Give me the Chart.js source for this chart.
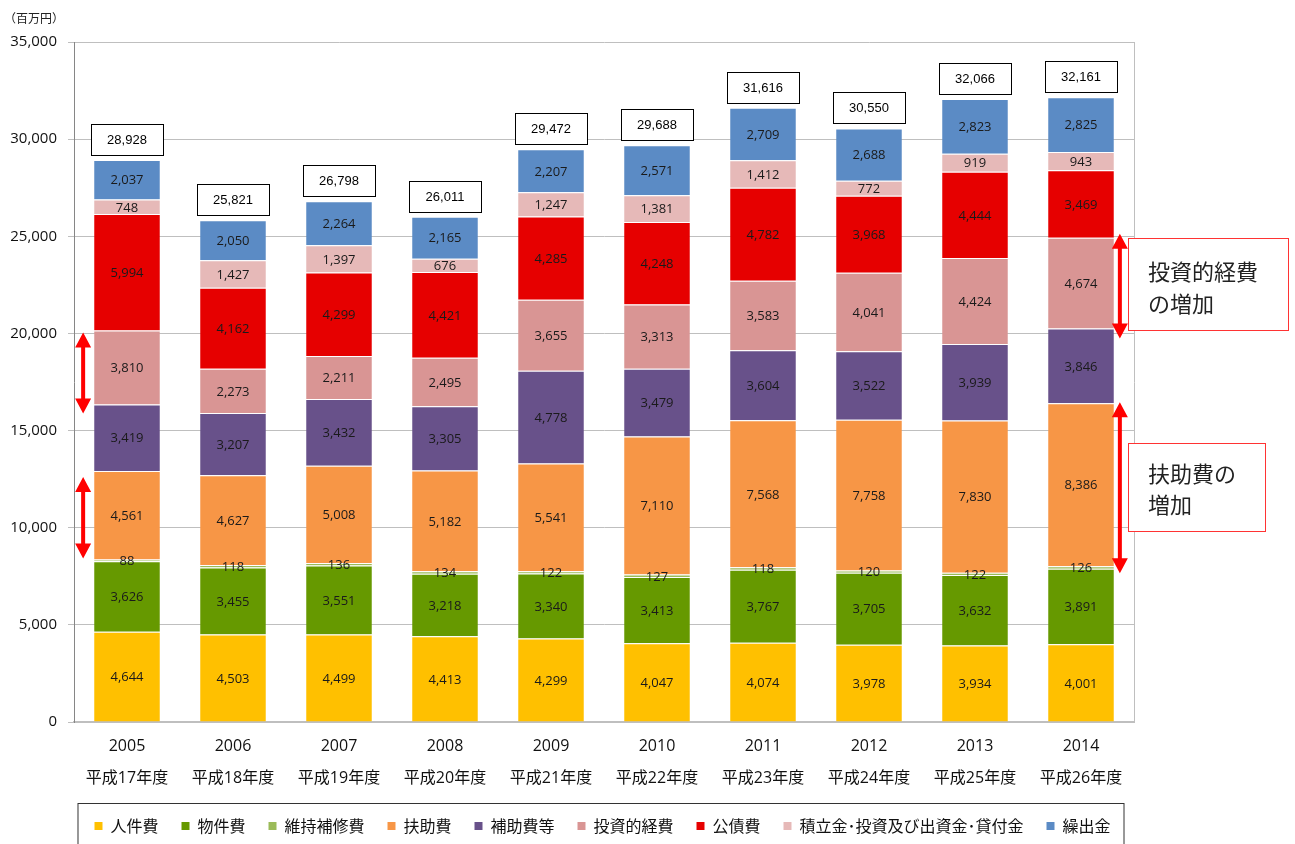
<!DOCTYPE html>
<html>
<head>
<meta charset="utf-8">
<script src="https://cdn.jsdelivr.net/npm/chart.js@4.4.1/dist/chart.umd.min.js"></script>
<style>
  html, body { margin: 0; padding: 0; background: #fff; }
  #wrap { width: 1295px; height: 844px; position: relative; }
</style>
</head>
<body>
<div id="wrap"><canvas id="c"></canvas></div>
<script>
// categories
var years = ['2005', '2006', '2007', '2008', '2009', '2010', '2011', '2012', '2013', '2014'];
var nendo = ['平成17年度', '平成18年度', '平成19年度', '平成20年度', '平成21年度',
             '平成22年度', '平成23年度', '平成24年度', '平成25年度', '平成26年度'];

// series (百万円)
var jinkenhi   = [4644, 4503, 4499, 4413, 4299, 4047, 4074, 3978, 3934, 4001];
var bukkenhi   = [3626, 3455, 3551, 3218, 3340, 3413, 3767, 3705, 3632, 3891];
var ijihoshu   = [88, 118, 136, 134, 122, 127, 118, 120, 122, 126];
var fujohi     = [4561, 4627, 5008, 5182, 5541, 7110, 7568, 7758, 7830, 8386];
var hojohi     = [3419, 3207, 3432, 3305, 4778, 3479, 3604, 3522, 3939, 3846];
var toshiteki  = [3810, 2273, 2211, 2495, 3655, 3313, 3583, 4041, 4424, 4674];
var kosaihi    = [5994, 4162, 4299, 4421, 4285, 4248, 4782, 3968, 4444, 3469];
var tsumitate  = [748, 1427, 1397, 676, 1247, 1381, 1412, 772, 919, 943];
var kuridashi  = [2037, 2050, 2264, 2165, 2207, 2571, 2709, 2688, 2823, 2825];
var totals     = [28928, 25821, 26798, 26011, 29472, 29688, 31616, 30550, 32066, 32161];

// y axis ticks
var yTicks = [0, 5000, 10000, 15000, 20000, 25000, 30000, 35000];

var seriesNames = ['人件費', '物件費', '維持補修費', '扶助費', '補助費等', '投資的経費', '公債費',
                   '積立金･投資及び出資金･貸付金', '繰出金'];
var seriesData = [jinkenhi, bukkenhi, ijihoshu, fujohi, hojohi, toshiteki, kosaihi, tsumitate, kuridashi];
var seriesColors = ['#FFC000', '#669900', '#9BBB59', '#F79646', '#68518A', '#D99594', '#E60000', '#E6B9B8', '#5B8BC5'];

function fmt(v) { return v.toLocaleString('en-US'); }

var JP = '"Noto Sans CJK JP", sans-serif';

var datasets = seriesData.map(function(d, i) {
  return {
    label: seriesNames[i],
    data: d,
    backgroundColor: seriesColors[i],
    borderColor: '#ffffff',
    borderWidth: { top: 1, left: 0, right: 0, bottom: 0 },
    borderSkipped: false,
    barPercentage: 0.62,
    categoryPercentage: 1.0
  };
});

// value labels inside segments + total boxes above the bars
var valueLabels = {
  id: 'valueLabels',
  afterDatasetsDraw(chart) {
    var ctx = chart.ctx;
    ctx.save();
    ctx.textAlign = 'center';
    ctx.textBaseline = 'middle';
    ctx.font = '13px "Open Sans", sans-serif';
    ctx.fillStyle = '#1a1a1a';
    chart.data.datasets.forEach(function(ds, i) {
      chart.getDatasetMeta(i).data.forEach(function(bar, j) {
        ctx.fillText(fmt(ds.data[j]), bar.x, (bar.y + bar.base) / 2 + 1);
      });
    });

    var last = chart.getDatasetMeta(chart.data.datasets.length - 1).data;
    ctx.font = '13px "Liberation Sans", sans-serif';
    last.forEach(function(bar, j) {
      var w = 72, h = 31;
      var bx = Math.round(bar.x - w / 2), by = Math.round(bar.y - 5 - h);
      ctx.fillStyle = '#fff';
      ctx.fillRect(bx, by, w, h);
      ctx.strokeStyle = '#000';
      ctx.lineWidth = 1;
      ctx.strokeRect(bx + 0.5, by + 0.5, w, h);
      ctx.fillStyle = '#000';
      ctx.fillText(fmt(totals[j]), bar.x, by + h / 2 + 1);
    });
    ctx.restore();
  }
};

function vArrow(ctx, x, y1, y2) {
  var hw = 8, hl = 15, sw = 2;
  ctx.beginPath();
  ctx.moveTo(x, y1);
  ctx.lineTo(x + hw, y1 + hl);
  ctx.lineTo(x + sw, y1 + hl);
  ctx.lineTo(x + sw, y2 - hl);
  ctx.lineTo(x + hw, y2 - hl);
  ctx.lineTo(x, y2);
  ctx.lineTo(x - hw, y2 - hl);
  ctx.lineTo(x - sw, y2 - hl);
  ctx.lineTo(x - sw, y1 + hl);
  ctx.lineTo(x - hw, y1 + hl);
  ctx.closePath();
  ctx.fill();
}

// red arrows, callout boxes and the frame round the legend
var annotations = {
  id: 'annotations',
  afterDraw(chart) {
    var ctx = chart.ctx;
    var area = chart.chartArea;
    var first = 0, lastCat = years.length - 1;
    var inv = chart.getDatasetMeta(5).data;   // 投資的経費
    var fuj = chart.getDatasetMeta(3).data;   // 扶助費

    ctx.save();
    ctx.fillStyle = '#FF0000';
    var lx = inv[first].x - inv[first].width / 2 - 11;
    vArrow(ctx, lx, inv[first].y + 2, inv[first].base + 9);
    vArrow(ctx, lx, fuj[first].y + 6, fuj[first].base - 1);
    var rx = inv[lastCat].x + inv[lastCat].width / 2 + 6;
    vArrow(ctx, rx, inv[lastCat].y - 4, inv[lastCat].base + 10);
    vArrow(ctx, rx, fuj[lastCat].y - 1, fuj[lastCat].base + 7);

    // callouts
    var bl = area.right - 6;
    ctx.font = '22px ' + JP;
    ctx.textAlign = 'left';
    ctx.textBaseline = 'middle';

    var t1 = Math.round(inv[lastCat].y), b1 = Math.round(inv[lastCat].base) + 1;
    ctx.fillStyle = '#fff';
    ctx.fillRect(bl, t1, 160, b1 - t1);
    ctx.strokeStyle = '#FF3333';
    ctx.lineWidth = 1;
    ctx.strokeRect(bl + 0.5, t1 + 0.5, 160, b1 - t1);
    ctx.fillStyle = '#222';
    ctx.fillText('投資的経費', bl + 20, t1 + 34);
    ctx.fillText('の増加', bl + 20, t1 + 66);

    var mid = Math.round((fuj[lastCat].y + fuj[lastCat].base) / 2) + 2;
    var t2 = mid - 44;
    ctx.fillStyle = '#fff';
    ctx.fillRect(bl, t2, 137, 88);
    ctx.strokeRect(bl + 0.5, t2 + 0.5, 137, 88);
    ctx.fillStyle = '#222';
    ctx.fillText('扶助費の', bl + 20, t2 + 31);
    ctx.fillText('増加', bl + 20, t2 + 62);

    // unit label
    ctx.font = '12px ' + JP;
    ctx.fillText('（百万円）', 4, 18);

    // legend frame
    var hb = chart.legend.legendHitBoxes;
    if (hb && hb.length) {
      var L = hb[0].left - 17;
      var R = hb[hb.length - 1].left + hb[hb.length - 1].width + 13;
      var T = Math.round(hb[0].top) - 15;
      ctx.strokeStyle = '#333';
      ctx.strokeRect(L + 0.5, T + 0.5, R - L, chart.height - T + 10);
    }
    ctx.restore();
  }
};

var ctx = document.getElementById('c').getContext('2d');
new Chart(ctx, {
  type: 'bar',
  data: {
    labels: years.map(function(y, i) { return [y, nendo[i]]; }),
    datasets: datasets
  },
  options: {
    responsive: true,
    maintainAspectRatio: false,
    animation: false,
    layout: { padding: { top: 42, left: 0, right: 90, bottom: 0 } },
    plugins: {
      tooltip: { enabled: false },
      legend: {
        position: 'bottom',
        labels: {
          boxWidth: 8,
          boxHeight: 8,
          padding: 23,
          color: '#111',
          font: { size: 16, family: JP },
          generateLabels: function(chart) {
            var items = Chart.defaults.plugins.legend.labels.generateLabels(chart);
            items.forEach(function(it) { it.lineWidth = 0; it.strokeStyle = it.fillStyle; });
            return items;
          }
        }
      }
    },
    scales: {
      x: {
        stacked: true,
        grid: { display: false },
        border: { color: '#BFBFBF', width: 2 },
        ticks: {
          color: '#111',
          padding: 0,
          font: { size: 16, family: '"Open Sans", ' + JP, lineHeight: 2 }
        },
        afterFit: function(s) { s.height = 73; }
      },
      y: {
        stacked: true,
        min: 0,
        max: 35000,
        afterBuildTicks: function(s) { s.ticks = yTicks.map(function(v) { return { value: v }; }); },
        grid: { color: '#BFBFBF', tickLength: 6 },
        border: { color: '#868686' },
        ticks: {
          color: '#111',
          padding: 11,
          font: { size: 15, family: '"Open Sans", sans-serif' },
          callback: function(v) { return fmt(v); }
        },
        afterFit: function(s) { s.width = 74; }
      },
      y2: {
        position: 'right',
        grid: { display: false },
        border: { color: '#BFBFBF' },
        ticks: { display: false },
        afterFit: function(s) { s.width = 71; }
      }
    }
  },
  plugins: [valueLabels, annotations]
});
</script>
</body>
</html>
